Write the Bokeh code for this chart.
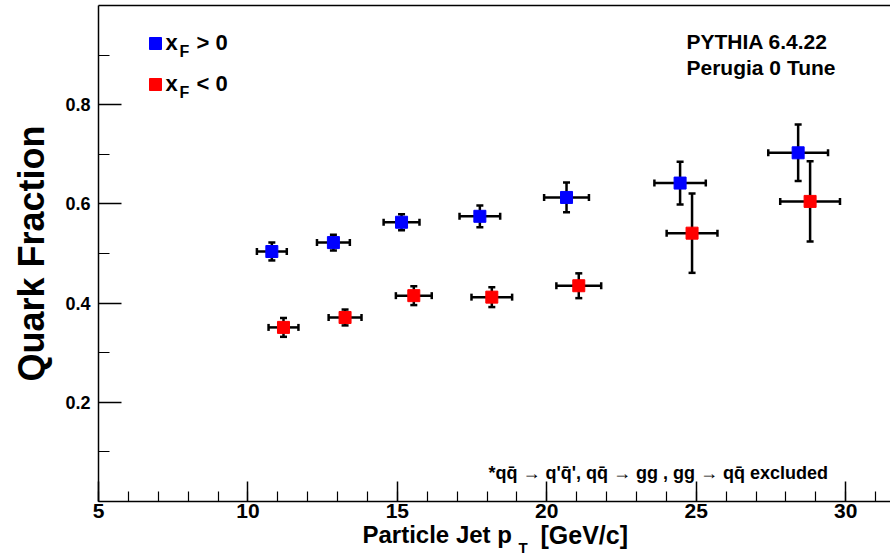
from bokeh.plotting import figure
from bokeh.models import (Range1d, FixedTicker, Whisker, TeeHead, ColumnDataSource,
                          Label, Legend, LegendItem, LinearAxis)
from bokeh.embed import file_html
from bokeh.resources import INLINE

# ---------------- data ----------------
pt_pos = [10.80, 12.86, 15.14, 17.76, 20.66, 24.46, 28.41]
qf_pos = [0.504, 0.522, 0.563, 0.575, 0.613, 0.642, 0.703]
xerr_pos = [0.50, 0.55, 0.60, 0.68, 0.75, 0.86, 1.00]
yerr_pos = [0.018, 0.016, 0.016, 0.022, 0.030, 0.043, 0.057]

pt_neg = [11.19, 13.25, 15.55, 18.16, 21.07, 24.86, 28.81]
qf_neg = [0.351, 0.371, 0.415, 0.412, 0.435, 0.541, 0.605]
xerr_neg = [0.50, 0.55, 0.60, 0.68, 0.75, 0.85, 1.00]
yerr_neg = [0.019, 0.016, 0.019, 0.020, 0.025, 0.080, 0.081]

x_major = [5, 10, 15, 20, 25, 30]
x_minor = list(range(5, 32))
y_major = [0.2, 0.4, 0.6, 0.8]
y_minor = [0.1, 0.2, 0.3, 0.4, 0.5, 0.6, 0.7, 0.8, 0.9]

# ---------------- geometry ----------------
W, H = 890, 556
L, T, B = 98, 5, 55          # pixel position of the axes box inside the canvas
X0, X1 = 5.0, 31.5
Y0, Y1 = 0.0, 1.0
FW, FH = W - L, H - T - B
sx = (X1 - X0) / FW
sy = (Y1 - Y0) / FH

def dx(px):
    return X0 + (px - L) * sx

def dy(py):
    return Y0 + (T + FH - py) * sy

FONT = "Liberation Sans"

# the frame covers the whole canvas; axes are pinned at the box edges
p = figure(width=W, height=H, output_backend="svg", toolbar_location=None,
           x_range=Range1d(dx(0), dx(W)), y_range=Range1d(dy(H), dy(0)),
           min_border=0)
p.grid.visible = False
p.outline_line_color = None
p.background_fill_color = "white"
p.border_fill_color = "white"

# x axis
xa = p.xaxis[0]
xa.fixed_location = Y0
xa.bounds = (X0, X1)
xa.ticker = FixedTicker(ticks=x_major, minor_ticks=x_minor)
xa.major_tick_in = 20
xa.major_tick_out = 0
xa.minor_tick_in = 10
xa.minor_tick_out = 0
xa.axis_line_width = 1.5
xa.major_tick_line_width = 1.5
xa.minor_tick_line_width = 1.2
xa.major_label_text_font = FONT
xa.major_label_text_font_style = "bold"
xa.major_label_text_font_size = "21px"
xa.major_label_text_color = "black"
xa.major_label_standoff = 2

# y axis
ya = p.yaxis[0]
ya.fixed_location = X0
ya.bounds = (Y0, Y1)
ya.ticker = FixedTicker(ticks=y_major, minor_ticks=y_minor)
ya.major_tick_in = 23
ya.major_tick_out = 0
ya.minor_tick_in = 11
ya.minor_tick_out = 0
ya.axis_line_width = 1.5
ya.major_tick_line_width = 1.5
ya.minor_tick_line_width = 1.2
ya.major_label_text_font = FONT
ya.major_label_text_font_style = "bold"
ya.major_label_text_font_size = "18px"
ya.major_label_text_color = "black"
ya.major_label_standoff = 8
ya.axis_label = "Quark Fraction"
ya.axis_label_text_font = FONT
ya.axis_label_text_font_style = "bold"
ya.axis_label_text_font_size = "36px"
ya.axis_label_text_color = "black"
ya.axis_label_standoff = 10

# top frame line
top = LinearAxis(fixed_location=Y1, bounds=(X0, X1), ticker=FixedTicker(ticks=[]),
                 major_label_text_font_size="0px", axis_line_width=1.5,
                 major_tick_line_color=None, minor_tick_line_color=None)
p.add_layout(top, "above")

# ---------------- data marks ----------------
src_pos = ColumnDataSource(dict(
    x=pt_pos, y=qf_pos,
    xl=[a - e for a, e in zip(pt_pos, xerr_pos)], xu=[a + e for a, e in zip(pt_pos, xerr_pos)],
    yl=[a - e for a, e in zip(qf_pos, yerr_pos)], yu=[a + e for a, e in zip(qf_pos, yerr_pos)]))
src_neg = ColumnDataSource(dict(
    x=pt_neg, y=qf_neg,
    xl=[a - e for a, e in zip(pt_neg, xerr_neg)], xu=[a + e for a, e in zip(pt_neg, xerr_neg)],
    yl=[a - e for a, e in zip(qf_neg, yerr_neg)], yu=[a + e for a, e in zip(qf_neg, yerr_neg)]))

for src in (src_pos, src_neg):
    for dim, base, lo, hi in (("width", "y", "xl", "xu"), ("height", "x", "yl", "yu")):
        w = Whisker(source=src, base=base, lower=lo, upper=hi, dimension=dim,
                    line_color="black", line_width=2.5,
                    upper_head=TeeHead(size=7, line_width=2.5, line_color="black"),
                    lower_head=TeeHead(size=7, line_width=2.5, line_color="black"))
        p.add_layout(w)

r_pos = p.scatter("x", "y", source=src_pos, marker="square", size=12,
                  fill_color="#0000ff", line_color="#0000ff")
r_neg = p.scatter("x", "y", source=src_neg, marker="square", size=12,
                  fill_color="#ff0000", line_color="#ff0000")

# ---------------- legend ----------------
leg = Legend(items=[LegendItem(label=" ", renderers=[r_pos]),
                    LegendItem(label=" ", renderers=[r_neg])],
             location=(140, H - 28 - 71), glyph_width=30, glyph_height=30, label_height=30,
             spacing=11, padding=0, margin=0, label_standoff=0,
             label_text_font_size="1px", border_line_color=None,
             background_fill_alpha=0)
p.add_layout(leg)

def lab(px, base, text, size):
    """Place text whose alphabetic baseline is at canvas pixel row `base`."""
    p.add_layout(Label(x=dx(px), y=dy(base - 0.36 * size), text=text, text_font=FONT,
                       text_font_style="bold", text_font_size=f"{size}px",
                       text_color="black", text_align="left", text_baseline="middle"))

# legend texts
for base_y, sym in ((50, "> 0"), (91, "< 0")):
    lab(165, base_y, "x", 22)
    lab(179, base_y + 7, "F", 16)
    lab(196, base_y, sym, 22)

# generator info
lab(686, 49, "PYTHIA 6.4.22", 21)
lab(686, 75, "Perugia 0 Tune", 21)

# footnote
lab(488, 479, "*q\u0071\u0304 \u2192 q'\u0071\u0304', q\u0071\u0304 \u2192 gg , gg \u2192 q\u0071\u0304 excluded", 18)

# x axis title with subscript
lab(362, 543, "Particle Jet p", 24)
lab(518, 552, "T", 15)
lab(540, 543, "[GeV/c]", 25)

open("out.html", "w").write(file_html(p, INLINE))
